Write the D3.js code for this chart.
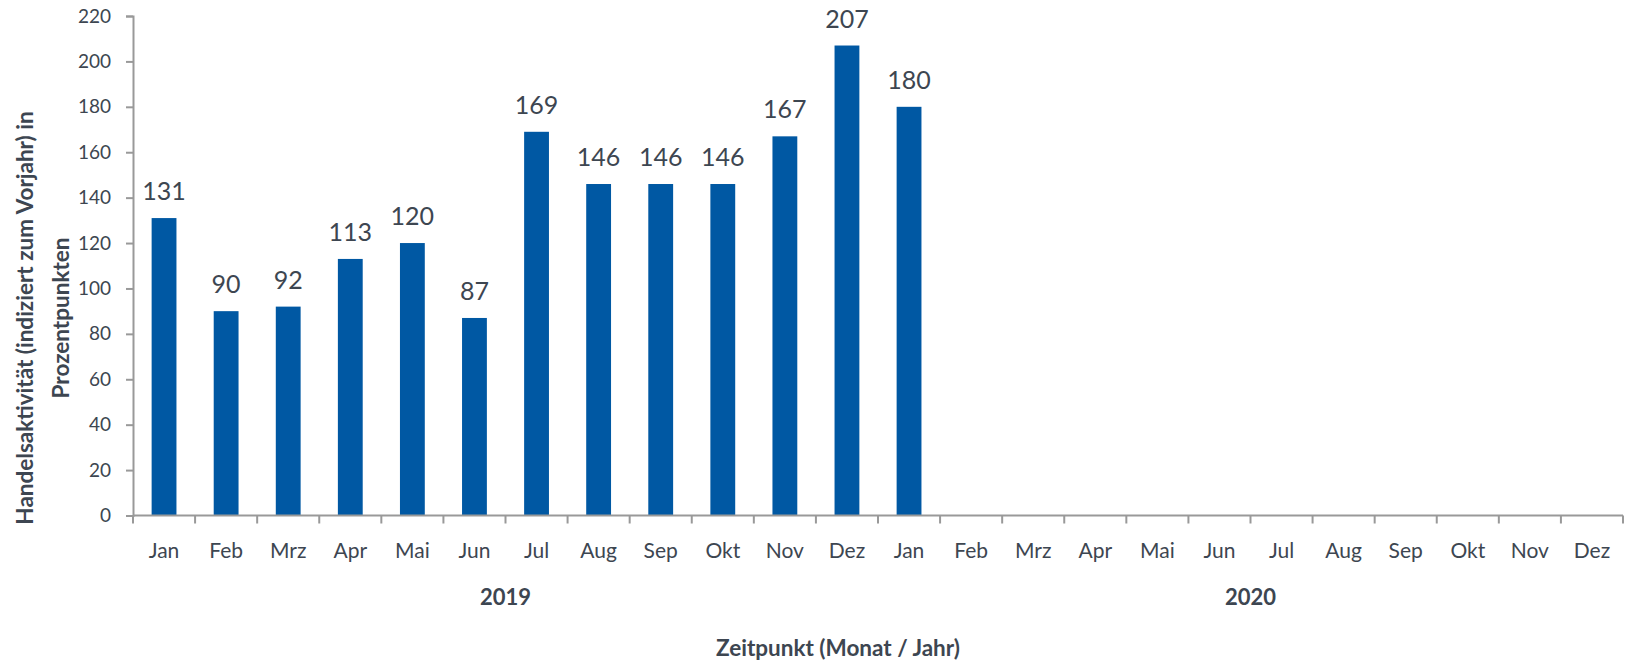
<!DOCTYPE html>
<html><head><meta charset="utf-8">
<script src="https://cdn.jsdelivr.net/npm/d3@7"></script>
<style>
body{margin:0;background:#fff;}
svg text{font-family:Lato,"Open Sans",sans-serif;fill:#3d4651;}
</style></head>
<body><svg id="c" width="1625" height="664"></svg>
<script>
const months = ["Jan","Feb","Mrz","Apr","Mai","Jun","Jul","Aug","Sep","Okt","Nov","Dez"];
const years = ["2019","2020"];
const values = [131,90,92,113,120,87,169,146,146,146,167,207,180];
const yTicks = [0,20,40,60,80,100,120,140,160,180,200,220];
const yTitle = ["Handelsaktivität (indiziert zum Vorjahr) in","Prozentpunkten"];
const xTitle = "Zeitpunkt (Monat / Jahr)";

(function(){
const cats = [];
years.forEach(y => months.forEach(m => cats.push({key: y + "-" + m, m, y})));

const svg = d3.select("#c");
const L = 133, R = 1623, T = 16, B = 515.5;
const x = d3.scaleBand().domain(cats.map(d => d.key)).range([L, R]).paddingInner(0.6).paddingOuter(0.3);
const y = d3.scaleLinear().domain([0, 220]).range([B, T]);
const axisColor = "#999";

// bars
svg.append("g").selectAll("rect").data(values).join("rect")
  .attr("x", (d,i) => x(cats[i].key))
  .attr("y", d => y(d))
  .attr("width", x.bandwidth())
  .attr("height", d => y(0) - y(d))
  .attr("fill", "#0058a3");

// value labels
svg.append("g").selectAll("text").data(values).join("text")
  .attr("x", (d,i) => x(cats[i].key) + x.bandwidth()/2)
  .attr("y", d => y(d) - 18)
  .attr("text-anchor", "middle")
  .style("font-size", "25px")
  .text(d => d);

// y axis
const yAxis = svg.append("g").attr("transform", `translate(${L},0)`)
  .call(d3.axisLeft(y).tickValues(yTicks).tickSize(7).tickPadding(15));
yAxis.select(".domain").attr("stroke", axisColor).attr("stroke-width", 2);
yAxis.selectAll(".tick line").attr("stroke", axisColor).attr("stroke-width", 2);
yAxis.selectAll(".tick text").style("font-size", "19px").style("font-family", "Lato, sans-serif").style("fill", "#3d4651");

// x axis with boundary ticks
const boundaries = d3.range(cats.length + 1).map(i => L + i * (R - L) / cats.length);
const xg = svg.append("g");
xg.append("line").attr("x1", L).attr("x2", R).attr("y1", B).attr("y2", B)
  .attr("stroke", axisColor).attr("stroke-width", 2);
xg.selectAll("line.t").data(boundaries).join("line").attr("class","t")
  .attr("x1", d => d).attr("x2", d => d).attr("y1", B).attr("y2", B + 8)
  .attr("stroke", axisColor).attr("stroke-width", 2);
xg.selectAll("text.m").data(cats).join("text").attr("class","m")
  .attr("x", d => x(d.key) + x.bandwidth()/2)
  .attr("y", 558)
  .attr("text-anchor", "middle")
  .style("font-size", "21px")
  .text(d => d.m);

// year labels
years.forEach(yr => {
  const ks = cats.filter(c => c.y === yr);
  const x0 = x(ks[0].key), x1 = x(ks[ks.length-1].key) + x.bandwidth();
  svg.append("text").attr("x", (x0 + x1)/2).attr("y", 605)
    .attr("text-anchor","middle").style("font-size", "22px").attr("font-weight","bold").text(yr);
});

// x title
svg.append("text").attr("x", 838).attr("y", 656).attr("text-anchor","middle")
  .style("font-size", "22.5px").attr("font-weight","bold").text(xTitle);

// y title
const yt = svg.append("text").attr("transform", "translate(0,318) rotate(-90)")
  .attr("text-anchor","middle").style("font-size", "22.5px").attr("font-weight","bold");
yt.append("tspan").attr("x", 0).attr("y", 33).text(yTitle[0]);
yt.append("tspan").attr("x", 0).attr("y", 69).text(yTitle[1]);
})();
</script></body></html>
